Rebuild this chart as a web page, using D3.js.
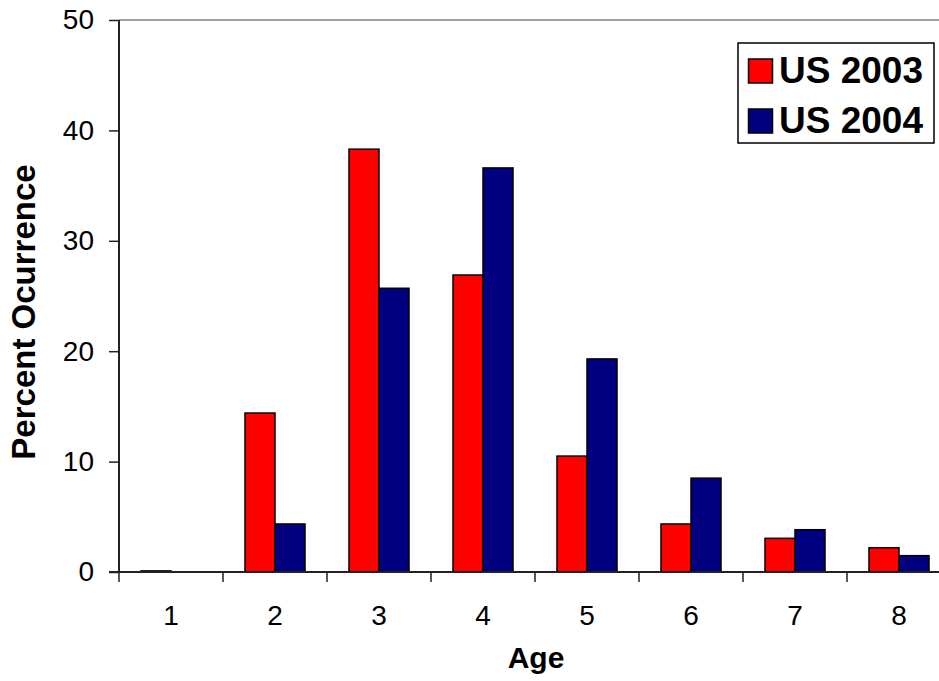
<!DOCTYPE html>
<html>
<head>
<meta charset="utf-8">
<script src="https://cdn.jsdelivr.net/npm/d3@7"></script>
<style>
html,body{margin:0;padding:0;background:#fff;}
svg{display:block;}
text{font-family:"Liberation Sans",Arial,sans-serif;fill:#000;}
</style>
</head>
<body>
<svg id="chart" width="939" height="681"></svg>
<script>
const categories = ["1","2","3","4","5","6","7","8"];
const seriesNames = ["US 2003","US 2004"];
const us2003 = [0.1, 14.4, 38.3, 26.9, 10.5, 4.35, 3.05, 2.2];
const us2004 = [0.0, 4.35, 25.7, 36.6, 19.3, 8.5, 3.83, 1.48];
const yTicks = [0,10,20,30,40,50];
const colors = ["#FF0000","#000080"];

(function(){
const svg = d3.select("#chart");
const pL = 119, pR = 951, pT = 20, pB = 572;

const y = d3.scaleLinear().domain([0,50]).range([pB, pT]);
const x0 = d3.scaleBand().domain(categories).range([pL, pR]).padding(0);
const x1 = d3.scaleBand().domain(seriesNames).range([0, x0.bandwidth()]).paddingInner(0).paddingOuter(0.733);

// top frame line
svg.append("line").attr("x1", pL).attr("x2", 939).attr("y1", pT).attr("y2", pT)
  .attr("stroke", "#808080").attr("stroke-width", 1.5);

// bars
const data = categories.map((c,i)=>({cat:c, vals:[us2003[i], us2004[i]]}));
const g = svg.append("g");
data.forEach(d=>{
  d.vals.forEach((v,j)=>{
    if (v <= 0) return;
    g.append("rect")
      .attr("x", x0(d.cat) + x1(seriesNames[j]))
      .attr("y", y(v))
      .attr("width", x1.bandwidth())
      .attr("height", y(0) - y(v))
      .attr("fill", colors[j])
      .attr("stroke", "#000")
      .attr("stroke-width", 1.5);
  });
});

// y axis
const yAxis = d3.axisLeft(y).tickValues(yTicks).tickSize(10).tickPadding(15).tickFormat(d3.format("d"));
const ya = svg.append("g").attr("transform", `translate(${pL},0)`).call(yAxis);
ya.select(".domain").attr("d", `M0,${pT}V${pB}`).attr("stroke","#222").attr("stroke-width",2);
ya.selectAll(".tick line").attr("stroke","#222").attr("stroke-width",1.5);
ya.selectAll(".tick text").attr("font-size", 28).attr("font-family", '"Liberation Sans",Arial,sans-serif').attr("fill","#000");

// x axis
const xa = svg.append("g").attr("transform", `translate(0,${pB})`);
xa.append("line").attr("x1", pL-10).attr("x2", 939).attr("y1",0).attr("y2",0).attr("stroke","#222").attr("stroke-width",2);
const bounds = categories.map(c=>x0(c)).concat([pR]);
xa.selectAll("line.tk").data(bounds).join("line").attr("class","tk")
  .attr("x1", d=>d).attr("x2", d=>d).attr("y1",0).attr("y2",10).attr("stroke","#222").attr("stroke-width",1.5);
xa.selectAll("text.lbl").data(categories).join("text").attr("class","lbl")
  .attr("x", d=>x0(d)+x0.bandwidth()/2).attr("y", 53)
  .attr("text-anchor","middle").attr("font-size",28).text(d=>d);

// axis titles
svg.append("text").attr("x", 536).attr("y", 668).attr("text-anchor","middle")
  .attr("font-size", 30).attr("font-weight","bold").text("Age");
svg.append("text").attr("transform", `translate(35,312) rotate(-90)`).attr("text-anchor","middle")
  .attr("font-size", 33).attr("font-weight","bold").text("Percent Ocurrence");

// legend
const lg = svg.append("g");
lg.append("rect").attr("x",738).attr("y",43).attr("width",196).attr("height",100)
  .attr("fill","#fff").attr("stroke","#000").attr("stroke-width",1.5);
seriesNames.forEach((s,i)=>{
  const yy = 59 + i*50;
  lg.append("rect").attr("x",748.5).attr("y",yy).attr("width",24).attr("height",24)
    .attr("fill",colors[i]).attr("stroke","#000").attr("stroke-width",1.5);
  lg.append("text").attr("x",779).attr("y",yy+24).attr("font-size",37).attr("font-weight","bold").text(s);
});
})();
</script>
</body>
</html>
